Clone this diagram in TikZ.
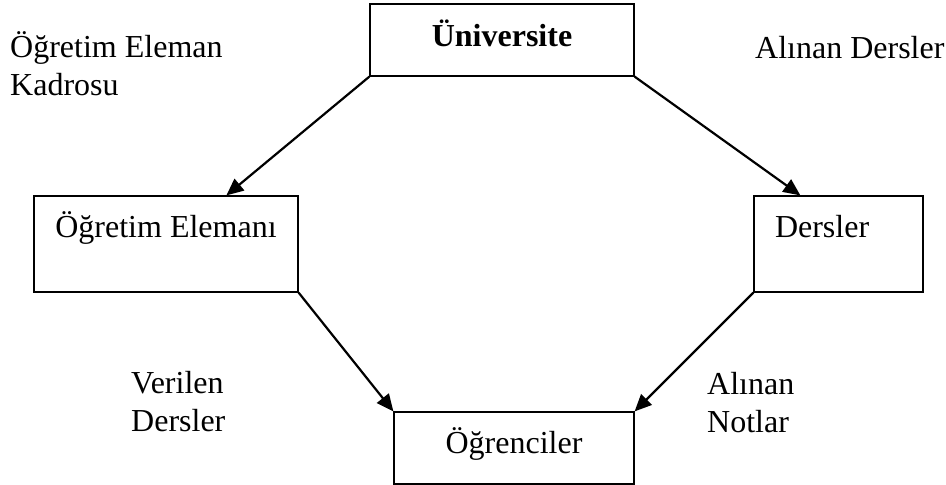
\documentclass[tikz,border=0pt]{standalone}
\usepackage{fontspec}
\setmainfont{Liberation Serif}
\usepackage{tikz}
\usetikzlibrary{arrows.meta}

\begin{document}
\begin{tikzpicture}[x=1pt, y=-1pt,
                font=\fontsize{32}{38}\selectfont,
                kutu/.style={draw, line width=1.2pt, inner sep=0pt, text height=22pt},
                ok/.style={-{Triangle[length=17pt,width=15pt]}, line width=2.2pt},
                etiket/.style={anchor=base west, inner sep=0pt, align=left}]
                \useasboundingbox (0, 0) rectangle (946, 485);
                \node[kutu, minimum width=264pt, minimum height=72pt, text depth=10pt] (univ) at (502, 40) {\textbf{Üniversite}};
                \node[kutu, minimum width=264pt, minimum height=96pt, text depth=36pt] (eleman) at (166, 244) {Öğretim Elemanı};
                \node[kutu, minimum height=96pt, text depth=36pt, inner xsep=21pt, text width=127pt, align=left] (ders) at (838.5, 244) {Dersler};
                \node[kutu, minimum width=240pt, minimum height=72pt, text depth=12pt] (ogr) at (514, 448) {Öğrenciler};
                \draw[ok] (univ.south west) -- ([xshift=193pt]eleman.north west);
                \draw[ok] (univ.south east) -- ([xshift=47pt]ders.north west);
                \draw[ok] (eleman.south east) -- (ogr.north west);
                \draw[ok] (ders.south west) -- (ogr.north east);
                % iki satirlik etiketlerde base son satirda
                \node[etiket] (kadro) at (10, 95) {Öğretim Eleman\\Kadrosu};
                \node[etiket] (alinan) at (755, 58) {Alınan Dersler};
                \node[etiket] (verilen) at (131, 431) {Verilen\\Dersler};
                \node[etiket] (notlar) at (707, 432) {Alınan\\Notlar};
            \end{tikzpicture}
\end{document}
